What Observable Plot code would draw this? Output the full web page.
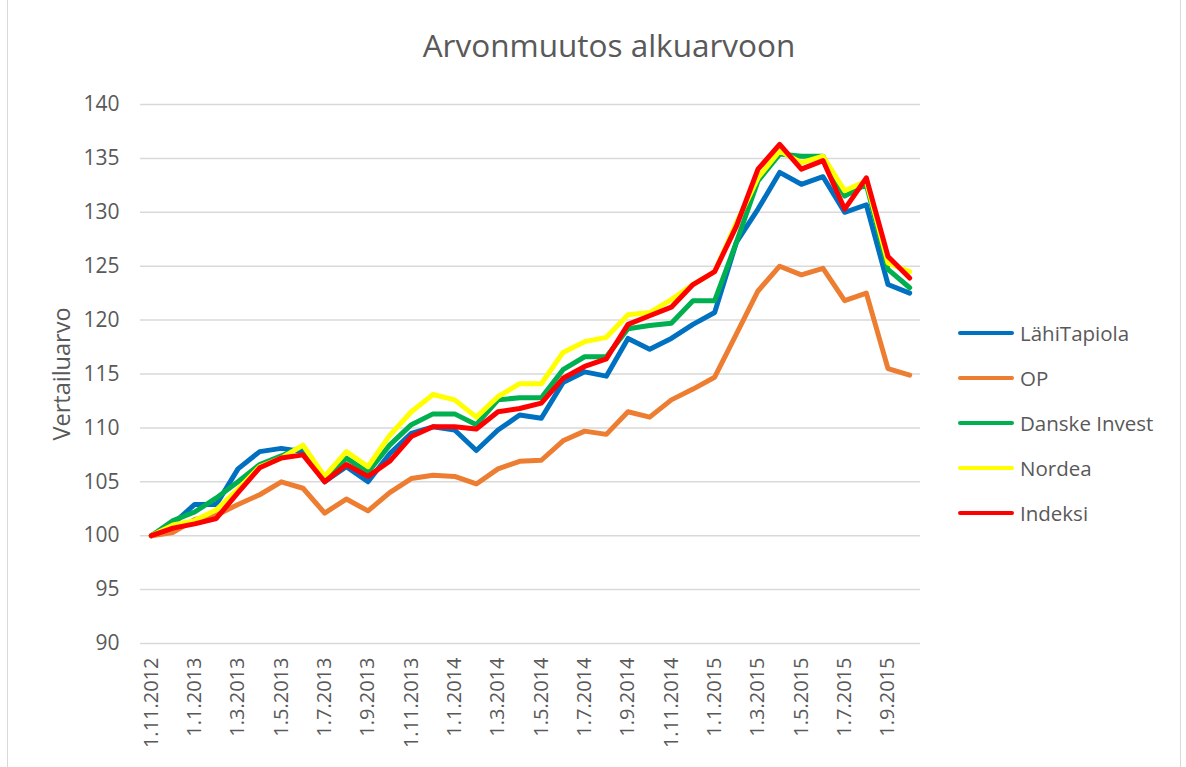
<!DOCTYPE html>
<html>
<head>
<meta charset="utf-8">
<script src="https://cdn.jsdelivr.net/npm/d3@7"></script>
<script src="https://cdn.jsdelivr.net/npm/@observablehq/plot@0.6"></script>
<style>
  html, body { margin: 0; padding: 0; background: #fff; }
  #wrap { position: relative; width: 1186px; height: 767px; overflow: hidden; font-family: "Open Sans", sans-serif; color: #595959; }
  #frame { position: absolute; left: 7px; top: -2px; width: 1172px; height: 800px; border-left: 1.5px solid #d9d9d9; border-right: 1.5px solid #d9d9d9; }
  #title { position: absolute; left: 0; width: 1218px; top: 29px; text-align: center; font-size: 31.5px; line-height: 31.5px; white-space: nowrap; }
  #chart { position: absolute; left: 0; top: 0; }
  .leg { position: absolute; left: 958px; height: 20px; display: flex; align-items: center; font-size: 20.5px; line-height: 20px; white-space: nowrap; }
  .leg .sw { width: 56px; height: 4.5px; border-radius: 3px; margin-right: 6px; }
</style>
</head>
<body>
<div id="wrap">
  <div id="frame"></div>
  <div id="chart"></div>
  <div id="title">Arvonmuutos alkuarvoon</div>
  <div id="legend"></div>
</div>
<script>
const dates = [
  "1.11.2012","1.12.2012","1.1.2013","1.2.2013","1.3.2013","1.4.2013","1.5.2013","1.6.2013","1.7.2013","1.8.2013","1.9.2013","1.10.2013",
  "1.11.2013","1.12.2013","1.1.2014","1.2.2014","1.3.2014","1.4.2014","1.5.2014","1.6.2014","1.7.2014","1.8.2014","1.9.2014","1.10.2014",
  "1.11.2014","1.12.2014","1.1.2015","1.2.2015","1.3.2015","1.4.2015","1.5.2015","1.6.2015","1.7.2015","1.8.2015","1.9.2015","1.10.2015"
];
const seriesNames = ["LähiTapiola", "OP", "Danske Invest", "Nordea", "Indeksi"];
const seriesColors = ["#0070c0", "#ed7d31", "#00b050", "#ffff00", "#ff0000"];

const lahiTapiola = [100, 101.1, 102.9, 102.9, 106.2, 107.8, 108.1, 107.8, 105.0, 106.4, 105.0, 107.6,
  109.5, 110.1, 109.8, 107.9, 109.8, 111.2, 110.9, 114.2, 115.2, 114.8, 118.3, 117.3,
  118.3, 119.6, 120.7, 127.2, 130.3, 133.7, 132.6, 133.3, 130.0, 130.7, 123.3, 122.5];
const op = [100, 100.3, 101.5, 101.9, 102.9, 103.8, 105.0, 104.4, 102.1, 103.4, 102.3, 104.0,
  105.3, 105.6, 105.5, 104.8, 106.2, 106.9, 107.0, 108.8, 109.7, 109.4, 111.5, 111.0,
  112.6, 113.6, 114.7, 118.7, 122.7, 125.0, 124.2, 124.8, 121.8, 122.5, 115.5, 114.9];
const danske = [100, 101.4, 102.2, 103.5, 105.0, 106.6, 107.4, 108.3, 105.3, 107.2, 105.9, 108.4,
  110.3, 111.3, 111.3, 110.3, 112.6, 112.8, 112.8, 115.4, 116.6, 116.6, 119.2, 119.5,
  119.7, 121.8, 121.8, 127.2, 132.9, 135.4, 135.2, 135.2, 131.5, 132.6, 124.7, 123.0];
const nordea = [100, 101.0, 101.4, 102.4, 104.3, 106.4, 107.2, 108.4, 105.5, 107.8, 106.4, 109.3,
  111.5, 113.1, 112.6, 111.0, 112.9, 114.1, 114.1, 117.0, 118.0, 118.4, 120.5, 120.7,
  121.9, 123.3, 124.5, 129.0, 133.2, 135.7, 134.6, 135.2, 132.0, 132.9, 125.3, 124.5];
const indeksi = [100, 100.7, 101.1, 101.6, 104.0, 106.3, 107.2, 107.5, 105.0, 106.6, 105.5, 106.9,
  109.2, 110.1, 110.1, 109.9, 111.5, 111.8, 112.3, 114.6, 115.7, 116.4, 119.6, 120.4,
  121.2, 123.3, 124.5, 128.7, 134.0, 136.3, 134.0, 134.8, 130.3, 133.2, 125.9, 123.9];
const yTicks = [90, 95, 100, 105, 110, 115, 120, 125, 130, 135, 140];
const yTitle = "Vertailuarvo";

const allSeries = [lahiTapiola, op, danske, nordea, indeksi];
const rows = [];
seriesNames.forEach((name, s) => {
  allSeries[s].forEach((v, i) => rows.push({series: name, date: dates[i], value: v}));
});
const xTicks = dates.filter((d, i) => i % 2 === 0);

const chart = Plot.plot({
  width: 1186,
  height: 767,
  marginLeft: 140,
  marginRight: 266,
  marginTop: 104,
  marginBottom: 124,
  style: {fontFamily: "'Open Sans', sans-serif", fontSize: "20px", color: "#595959", background: "transparent"},
  x: {type: "point", domain: dates, padding: 0.5, round: false},
  y: {domain: [90, 140]},
  color: {domain: seriesNames, range: seriesColors},
  marks: [
    Plot.gridY(yTicks, {stroke: "#d9d9d9", strokeWidth: 1.5, strokeOpacity: 1}),
    Plot.axisY(yTicks, {tickSize: 0, tickPadding: 21, fontSize: 21, fill: "#595959", label: null}),
    Plot.text([yTitle], {frameAnchor: "left", textAnchor: "middle", rotate: -90, dx: -78, fontSize: 23.5, fill: "#595959"}),
    Plot.axisX(xTicks, {tickSize: 0, tickPadding: 14, tickRotate: -90, fontSize: 20, fill: "#595959", label: null}),
    Plot.line(rows, {x: "date", y: "value", z: "series", stroke: "series", strokeWidth: 5,
      strokeLinejoin: "round", strokeLinecap: "round"})
  ]
});
document.getElementById("chart").appendChild(chart);

const legend = document.getElementById("legend");
const legendCenters = [333, 378, 423, 468, 513];
seriesNames.forEach((name, i) => {
  const row = document.createElement("div");
  row.className = "leg";
  row.style.top = (legendCenters[i] - 10) + "px";
  const sw = document.createElement("div");
  sw.className = "sw";
  sw.style.background = seriesColors[i];
  const t = document.createElement("span");
  t.textContent = name;
  row.appendChild(sw);
  row.appendChild(t);
  legend.appendChild(row);
});
</script>
</body>
</html>
